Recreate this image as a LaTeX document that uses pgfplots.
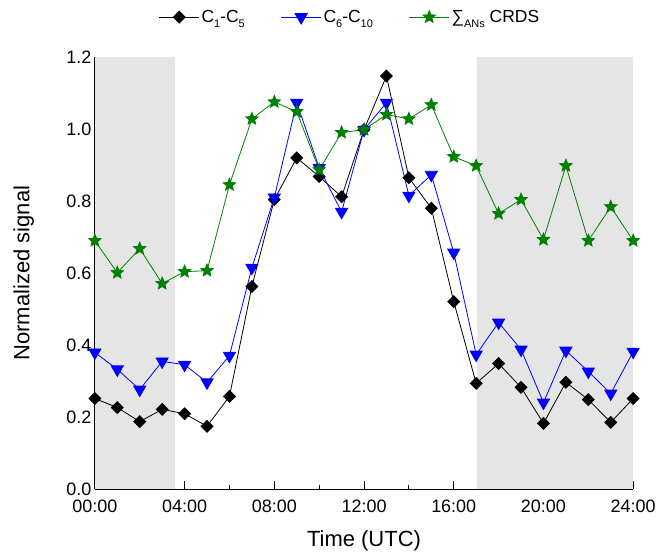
\documentclass[border=0pt]{standalone}
\usepackage{fontspec}
\setmainfont{Liberation Sans}
\usepackage{pgfplots}
\pgfplotsset{compat=1.18}
\definecolor{dgreen}{RGB}{0,128,0}
\definecolor{bggray}{RGB}{229,229,229}
\newcommand\sub[1]{\raisebox{-5pt}{\fontsize{11}{12}\selectfont #1}}
\pgfdeclareplotmark{fstar}{%
  \pgfpathmoveto{\pgfpointpolar{90}{\pgfplotmarksize}}%
  \pgfpathlineto{\pgfpointpolar{126}{0.45\pgfplotmarksize}}%
  \pgfpathlineto{\pgfpointpolar{162}{\pgfplotmarksize}}%
  \pgfpathlineto{\pgfpointpolar{198}{0.45\pgfplotmarksize}}%
  \pgfpathlineto{\pgfpointpolar{234}{\pgfplotmarksize}}%
  \pgfpathlineto{\pgfpointpolar{270}{0.45\pgfplotmarksize}}%
  \pgfpathlineto{\pgfpointpolar{306}{\pgfplotmarksize}}%
  \pgfpathlineto{\pgfpointpolar{342}{0.45\pgfplotmarksize}}%
  \pgfpathlineto{\pgfpointpolar{18}{\pgfplotmarksize}}%
  \pgfpathlineto{\pgfpointpolar{54}{0.45\pgfplotmarksize}}%
  \pgfpathclose
  \pgfusepathqfillstroke
}
\begin{document}
\begin{tikzpicture}[font=\fontsize{18}{21}\selectfont]
\begin{axis}[
  name=ax,
  scale only axis, width=539pt, height=433pt,
  xmin=0, xmax=24, ymin=0, ymax=1.2,
  axis x line*=bottom, axis y line*=left,
  axis line style={line width=0.8pt, -},
  xtick={0,4,...,24},
  xticklabels={00:00,04:00,08:00,12:00,16:00,20:00,24:00},
  minor x tick num=1,
  ytick={0,0.2,...,1.2},
  minor y tick num=1,
  tick align=inside,
  major tick length=8pt, minor tick length=4pt,
  tick style={line width=0.8pt, black},
  xticklabel style={yshift=-7pt},
  yticklabel style={/pgf/number format/.cd, fixed, fixed zerofill, precision=1},
  /pgf/number format/assume math mode=true,
  xlabel={Time (UTC)}, ylabel={Normalized signal},
  xlabel style={font=\fontsize{22}{26}\selectfont, at={(axis description cs:0.5,-0.118)}, anchor=center},
  ylabel style={font=\fontsize{22}{26}\selectfont, at={(axis description cs:-0.132,0.5)}, anchor=center},
  legend columns=3,
  legend style={draw=none, fill=none, at={(0.474,1.092)}, anchor=center,
    font=\fontsize{17.5}{20}\selectfont,
    /tikz/every even column/.append style={column sep=34pt}},
  legend image code/.code={\draw[mark repeat=2,mark phase=2] plot coordinates {(0pt,0pt)(20pt,0pt)(40pt,0pt)};},
]
\fill[bggray] (axis cs:0,0) rectangle (axis cs:3.58,1.2);
\fill[bggray] (axis cs:17.05,0) rectangle (axis cs:24,1.2);
\addplot[black, line width=0.8pt, mark=square*, mark size=4.2pt, mark options={rotate=45, solid, fill=black}] coordinates {
(0,0.252)(1,0.227)(2,0.188)(3,0.222)(4,0.210)(5,0.175)(6,0.258)(7,0.563)(8,0.804)(9,0.920)(10,0.868)(11,0.812)(12,0.998)(13,1.147)(14,0.865)(15,0.780)(16,0.521)(17,0.294)(18,0.349)(19,0.283)(20,0.183)(21,0.297)(22,0.249)(23,0.186)(24,0.252)};
\addlegendentry{C\sub{1}-C\sub{5}}
\addplot[blue, line width=0.8pt, mark=triangle*, mark size=7pt, mark options={rotate=180, solid, fill=blue}] coordinates {
(0,0.380)(1,0.333)(2,0.277)(3,0.355)(4,0.346)(5,0.297)(6,0.371)(7,0.615)(8,0.810)(9,1.073)(10,0.892)(11,0.770)(12,0.998)(13,1.073)(14,0.815)(15,0.873)(16,0.657)(17,0.374)(18,0.463)(19,0.388)(20,0.241)(21,0.385)(22,0.327)(23,0.266)(24,0.382)};
\addlegendentry{C\sub{6}-C\sub{10}}
\addplot[dgreen, line width=0.8pt, mark=fstar, mark size=6.5pt, mark options={solid, fill=dgreen}] coordinates {
(0,0.690)(1,0.601)(2,0.668)(3,0.571)(4,0.604)(5,0.607)(6,0.845)(7,1.028)(8,1.075)(9,1.048)(10,0.887)(11,0.990)(12,0.998)(13,1.040)(14,1.028)(15,1.067)(16,0.923)(17,0.898)(18,0.765)(19,0.804)(20,0.693)(21,0.898)(22,0.690)(23,0.784)(24,0.690)};
\addlegendentry{∑\sub{ANs} CRDS}
\end{axis}
\path (ax.south west) ++(-95pt,-63pt);
\path (ax.north east) ++(25pt,57pt);
\end{tikzpicture}
\end{document}
